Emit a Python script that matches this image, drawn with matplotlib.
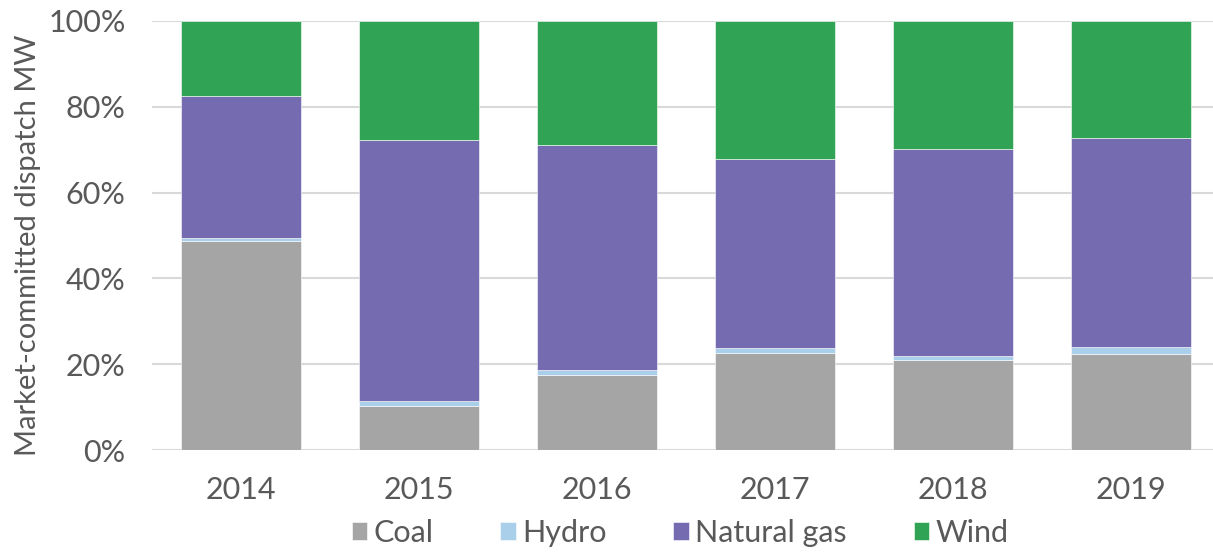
import matplotlib.pyplot as plt
import numpy as np

years = ["2014", "2015", "2016", "2017", "2018", "2019"]
coal = [48.7, 10.3, 17.5, 22.7, 21.0, 22.4]
hydro = [0.7, 1.1, 1.1, 1.0, 0.8, 1.7]
natural_gas = [33.1, 60.8, 52.4, 44.1, 48.3, 48.6]
wind = [17.5, 27.8, 29.0, 32.2, 29.9, 27.3]

series = [("Coal", coal, "#a5a5a5"),
          ("Hydro", hydro, "#a9cfea"),
          ("Natural gas", natural_gas, "#756bb1"),
          ("Wind", wind, "#31a354")]

plt.rcParams['font.family'] = ['Lato', 'DejaVu Sans']
text_color = "#595959"

fig = plt.figure(figsize=(12.13, 5.52), dpi=100)
ax = fig.add_axes([152 / 1213, 1 - 450 / 552, 1 - 152 / 1213, 429 / 552])

x = np.arange(len(years))
bottom = np.zeros(len(years))
for name, vals, color in series:
    ax.bar(x, vals, bottom=bottom, width=0.67, color=color, label=name,
           edgecolor="white", linewidth=0.4, zorder=3)
    bottom += np.array(vals)

ax.set_ylim(0, 100)
ax.set_xlim(-0.5, 5.46)
ax.set_yticks(range(0, 101, 20))
ax.set_yticklabels([f"{v}%" for v in range(0, 101, 20)])
ax.set_xticks(x)
ax.set_xticklabels(years)
ax.yaxis.grid(True, color="#d9d9d9", linewidth=1.5, zorder=0)
ax.set_axisbelow(True)
for s in ax.spines.values():
    s.set_visible(False)
ax.tick_params(axis="both", length=0, labelsize=22, colors=text_color)
ax.tick_params(axis="y", pad=19)
ax.tick_params(axis="x", pad=19)
ax.set_ylabel("Market-committed dispatch MW", fontsize=21, color=text_color)
ax.yaxis.set_label_coords(-0.105, 0.478)

leg = fig.legend(loc="center", bbox_to_anchor=(680 / 1213, 1 - 533 / 552), ncol=4,
                 frameon=False, fontsize=22, handlelength=0.5, handleheight=0.5,
                 handletextpad=0.2, columnspacing=2.2, labelcolor=text_color)

fig.savefig("out.png", dpi=100)
